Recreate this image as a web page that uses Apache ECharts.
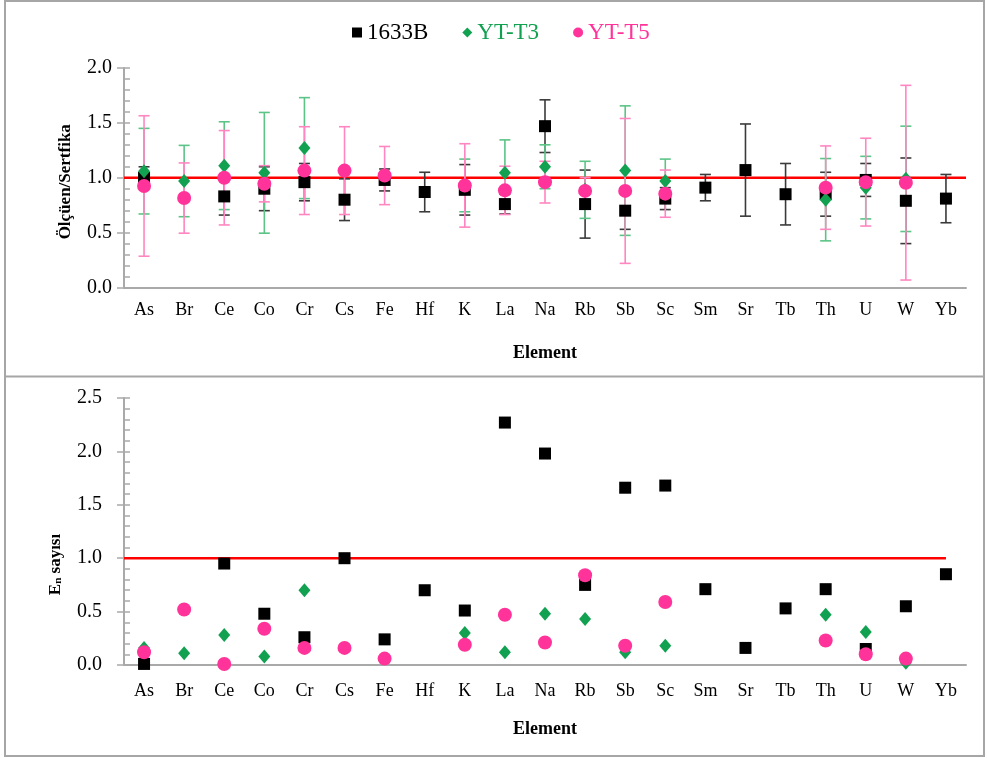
<!DOCTYPE html>
<html>
<head>
<meta charset="utf-8">
<script src="https://cdn.jsdelivr.net/npm/echarts@6/dist/echarts.min.js"></script>
<style>
  html, body { margin: 0; padding: 0; background: #ffffff; }
  #chart { width: 987px; height: 758px; }
</style>
</head>
<body>
<div id="chart"></div>
<script>
// Elements on the shared category axis
const ELEMENTS = ['As','Br','Ce','Co','Cr','Cs','Fe','Hf','K','La','Na','Rb','Sb','Sc','Sm','Sr','Tb','Th','U','W','Yb'];

// Measured / certified ratios and their uncertainties (half-width of error bar)
const RATIO_1633B = [1.00, null, 0.83, 0.90, 0.96, 0.80, 0.98, 0.87, 0.89, 0.76, 1.47, 0.76, 0.70, 0.81, 0.91, 1.07, 0.85, 0.85, 0.98, 0.79, 0.81];
const ERR_1633B   = [0.10, null, 0.17, 0.20, 0.17, 0.19, 0.10, 0.18, 0.23, 0.09, 0.24, 0.31, 0.17, 0.10, 0.12, 0.42, 0.28, 0.20, 0.15, 0.39, 0.22];
const RATIO_T3    = [1.06, 0.97, 1.11, 1.045, 1.27, null, null, null, 0.93, 1.045, 1.10, 0.89, 1.065, 0.97, null, null, null, 0.80, 0.91, 0.99, null];
const ERR_T3      = [0.39, 0.325, 0.40, 0.55, 0.46, null, null, null, 0.24, 0.30, 0.20, 0.26, 0.59, 0.20, null, null, null, 0.375, 0.285, 0.48, null];
const RATIO_T5    = [0.925, 0.815, 1.00, 0.945, 1.065, 1.065, 1.02, null, 0.93, 0.885, 0.96, 0.88, 0.88, 0.855, null, null, null, 0.91, 0.96, 0.955, null];
const ERR_T5      = [0.64, 0.32, 0.43, 0.165, 0.40, 0.40, 0.265, null, 0.38, 0.22, 0.19, 0.12, 0.66, 0.215, null, null, null, 0.38, 0.40, 0.887, null];

// En numbers
const EN_1633B = [0.01, null, 0.95, 0.48, 0.26, 1.00, 0.24, 0.70, 0.51, 2.27, 1.98, 0.75, 1.66, 1.68, 0.71, 0.16, 0.53, 0.71, 0.15, 0.55, 0.85];
const EN_T3    = [0.16, 0.11, 0.28, 0.08, 0.70, null, null, null, 0.30, 0.12, 0.48, 0.43, 0.12, 0.18, null, null, null, 0.47, 0.31, 0.02, null];
const EN_T5    = [0.12, 0.52, 0.01, 0.34, 0.16, 0.16, 0.06, null, 0.19, 0.47, 0.21, 0.84, 0.18, 0.59, null, null, null, 0.23, 0.10, 0.06, null];

// Reference level and axis ranges
const REF_LEVEL = 1;
const RATIO_AXIS = { min: 0, max: 2, interval: 0.5, minor: 0.1 };
const EN_AXIS = { min: 0, max: 2.5, interval: 0.5, minor: 0.1 };

const SERIF = 'Liberation Serif';
const AXIS_GREY = '#a9a9a9';
const C_BLACK = '#000000', C_GREEN = '#12a150', C_PINK = '#ff3399';
const E_BLACK = '#3a3a3a', E_GREEN = '#5cc487', E_PINK = '#ff86c0';

function points(values) {
  const out = [];
  values.forEach((v, i) => { if (v !== null) out.push([i, v]); });
  return out;
}
function errPoints(values, errs) {
  const out = [];
  values.forEach((v, i) => { if (v !== null && errs[i] !== null) out.push([i, v, errs[i]]); });
  return out;
}
function errorBarSeries(values, errs, color) {
  return {
    type: 'custom', xAxisIndex: 0, yAxisIndex: 0, z: 2, silent: true,
    data: errPoints(values, errs),
    encode: { x: 0, y: 1 },
    renderItem: function (params, api) {
      const x = api.value(0), v = api.value(1), e = api.value(2);
      const hi = api.coord([x, v + e]);
      const lo = api.coord([x, v - e]);
      const hw = 5.5;
      const st = { stroke: color, lineWidth: 1.6 };
      return {
        type: 'group',
        children: [
          { type: 'line', shape: { x1: hi[0], y1: hi[1], x2: lo[0], y2: lo[1] }, style: st },
          { type: 'line', shape: { x1: hi[0] - hw, y1: hi[1], x2: hi[0] + hw, y2: hi[1] }, style: st },
          { type: 'line', shape: { x1: lo[0] - hw, y1: lo[1], x2: lo[0] + hw, y2: lo[1] }, style: st }
        ]
      };
    }
  };
}
function scatter(name, values, symbol, size, color, xi, yi) {
  return {
    name: name, type: 'scatter', xAxisIndex: xi, yAxisIndex: yi, z: 3,
    symbol: symbol, symbolSize: size,
    itemStyle: { color: color, opacity: 1 },
    data: points(values)
  };
}
function refLine(xi, yi, xEnd) {
  return {
    type: 'line', xAxisIndex: xi, yAxisIndex: yi, z: 1, silent: true,
    symbol: 'none', lineStyle: { color: '#ff0000', width: 2.6 },
    data: [[0, REF_LEVEL], [xEnd, REF_LEVEL]]
  };
}
function catAxis(grid, labelMargin, nameGap) {
  return {
    type: 'category', gridIndex: grid, data: ELEMENTS, boundaryGap: true,
    axisLine: { lineStyle: { color: AXIS_GREY, width: 2 } },
    axisTick: { show: false },
    axisLabel: { color: '#000', fontFamily: SERIF, fontSize: 18, margin: labelMargin, interval: 0 },
    splitLine: { show: false },
    name: 'Element', nameLocation: 'middle', nameGap: nameGap,
    nameTextStyle: { color: '#000', fontFamily: SERIF, fontSize: 18, fontWeight: 'bold' }
  };
}
function hiddenValueX(grid) {
  return { type: 'value', gridIndex: grid, min: 0, max: ELEMENTS.length, show: false };
}
function valAxis(grid, ax, labelMargin, name, nameGap, namePad, nameRich) {
  return {
    type: 'value', gridIndex: grid, min: ax.min, max: ax.max, interval: ax.interval,
    axisLine: { show: true, lineStyle: { color: AXIS_GREY, width: 2 } },
    axisTick: { show: true, inside: false, length: 7, lineStyle: { color: AXIS_GREY, width: 1.5 } },
    axisLabel: { color: '#000', fontFamily: SERIF, fontSize: 20, margin: labelMargin,
                 formatter: v => v.toFixed(1) },
    splitLine: { show: false },
    name: name, nameLocation: 'middle', nameGap: nameGap, nameRotate: 90,
    nameTextStyle: Object.assign({ color: '#000', fontFamily: SERIF, fontSize: 17, fontWeight: 'bold', padding: namePad },
                                 nameRich ? { rich: nameRich } : {})
  };
}
function minorTickAxis(grid, ax) {
  return {
    type: 'value', gridIndex: grid, min: ax.min, max: ax.max, interval: ax.minor, position: 'left',
    axisLine: { show: false },
    axisTick: { show: true, inside: true, length: 6, lineStyle: { color: AXIS_GREY, width: 1.5 } },
    axisLabel: { show: false }, splitLine: { show: false }
  };
}

const chart = echarts.init(document.getElementById('chart'), null, { renderer: 'canvas' });

chart.setOption({
  animation: false,
  backgroundColor: '#ffffff',
  textStyle: { fontFamily: SERIF },
  graphic: [
    { type: 'rect', shape: { x: 5, y: 1, width: 979, height: 755 },
      style: { fill: 'none', stroke: '#a6a6a6', lineWidth: 2 }, z: -1 },
    { type: 'line', shape: { x1: 5, y1: 376.5, x2: 984, y2: 376.5 },
      style: { stroke: '#a6a6a6', lineWidth: 2 }, z: -1 }
  ],
  legend: {
    top: 16, left: 347, itemGap: 34, itemWidth: 10, itemHeight: 10,
    textStyle: { fontFamily: SERIF, fontSize: 23 },
    data: [
      { name: '1633B', icon: 'rect', textStyle: { color: C_BLACK } },
      { name: 'YT-T3', icon: 'diamond', textStyle: { color: C_GREEN } },
      { name: 'YT-T5', icon: 'circle', textStyle: { color: C_PINK } }
    ]
  },
  grid: [
    { left: 124, top: 68, width: 842, height: 219.5 },
    { left: 124, top: 398, width: 842, height: 267 }
  ],
  xAxis: [
    catAxis(0, 14, 57),
    catAxis(1, 17, 55),
    hiddenValueX(0),
    hiddenValueX(1)
  ],
  yAxis: [
    valAxis(0, RATIO_AXIS, 12, 'Ölçüen/Sertfika', 50, [0, 8, 0, 0]),
    valAxis(1, EN_AXIS, 22, '{a|E}{b|n}{a| sayısı}', 60, [0, 66, 0, 0],
            { a: { fontFamily: SERIF, fontSize: 17, fontWeight: 'bold', color: '#000' },
              b: { fontFamily: SERIF, fontSize: 11, fontWeight: 'bold', color: '#000', verticalAlign: 'bottom', padding: [6, 0, 0, 0] } }),
    minorTickAxis(0, RATIO_AXIS),
    minorTickAxis(1, EN_AXIS)
  ],
  series: [
    refLine(2, 0, ELEMENTS.length),
    refLine(3, 1, ELEMENTS.length - 0.5),
    errorBarSeries(RATIO_1633B, ERR_1633B, E_BLACK),
    errorBarSeries(RATIO_T3, ERR_T3, E_GREEN),
    errorBarSeries(RATIO_T5, ERR_T5, E_PINK),
    scatter('1633B', RATIO_1633B, 'rect', 12, C_BLACK, 0, 0),
    scatter('YT-T3', RATIO_T3, 'diamond', [12, 14], C_GREEN, 0, 0),
    scatter('YT-T5', RATIO_T5, 'circle', 14, C_PINK, 0, 0),
    scatter('1633B', EN_1633B, 'rect', 12, C_BLACK, 1, 1),
    scatter('YT-T3', EN_T3, 'diamond', [12, 14], C_GREEN, 1, 1),
    scatter('YT-T5', EN_T5, 'circle', 14, C_PINK, 1, 1)
  ]
});
</script>
</body>
</html>
